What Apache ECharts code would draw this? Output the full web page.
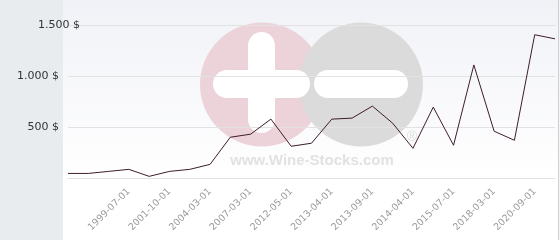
<!DOCTYPE html>
<html><head><meta charset="utf-8">
<script src="https://cdn.jsdelivr.net/npm/echarts@6/dist/echarts.min.js"></script>
<style>html,body{margin:0;padding:0;background:#fff}#c{width:560px;height:240px}</style>
</head><body><div id="c"></div>
<script>
// 25 categories; only the odd ones from index 3 carry a visible date label
var categories = ['', '', '', '1999-07-01', '', '2001-10-01', '', '2004-03-01', '', '2007-03-01', '', '2012-05-01', '', '2013-04-01', '', '2013-09-01', '', '2014-04-01', '', '2015-07-01', '', '2018-03-01', '', '2020-09-01', ''];
var prices = [45, 45, 65, 85, 16, 65, 85, 134, 401, 431, 579, 312, 342, 579, 589, 707, 539, 292, 697, 322, 1112, 460, 371, 1409, 1369];
var yTicks = [0, 500, 1000, 1500];

var chart = echarts.init(document.getElementById('c'), null, {renderer: 'canvas'});
chart.setOption({
  animation: false,
  backgroundColor: '#ffffff',
  grid: {left: 68, right: 5, top: 25.5, bottom: 62, containLabel: false},
  graphic: [
    {type: 'rect', z: -10, silent: true, shape: {x: 0, y: 0, width: 63, height: 240}, style: {fill: '#e8ecef'}},
    {type: 'rect', z: -10, silent: true, shape: {x: 63, y: 0, width: 495, height: 179},
      style: {fill: new echarts.graphic.LinearGradient(0, 0, 0, 1, [{offset: 0, color: '#f1f2f7'}, {offset: 1, color: '#ffffff'}])}},
    {type: 'rect', z: -10, silent: true, shape: {x: 558, y: 0, width: 1.2, height: 240}, style: {fill: '#cfcfcf'}},
    {type: 'circle', z: -5, silent: true, shape: {cx: 262, cy: 84.5, r: 62}, style: {fill: '#ecd3da'}},
    {type: 'circle', z: -5, silent: true, shape: {cx: 361, cy: 84.5, r: 62}, style: {fill: '#dbdbdb'}},
    {type: 'rect', z: -4, silent: true, shape: {x: 213, y: 70, width: 97, height: 28, r: 14}, style: {fill: '#ffffff'}},
    {type: 'rect', z: -4, silent: true, shape: {x: 248, y: 32, width: 27, height: 101, r: 13.5}, style: {fill: '#ffffff'}},
    {type: 'rect', z: -4, silent: true, shape: {x: 314, y: 70, width: 94, height: 28, r: 14}, style: {fill: '#ffffff'}},
    {type: 'text', z: -4, silent: true, x: 312, y: 161, style: {text: 'www.Wine-Stocks.com', font: 'bold 15px "Liberation Sans", Arial, sans-serif', fill: '#e2e2e2', align: 'center', verticalAlign: 'middle'}},
    {type: 'text', z: -4, silent: true, x: 412, y: 137, style: {text: '®', font: '14px "Liberation Sans", Arial, sans-serif', fill: '#dcdcdc', align: 'center', verticalAlign: 'middle'}}
  ],
  xAxis: {
    type: 'category',
    data: categories,
    boundaryGap: false,
    axisLine: {show: true, lineStyle: {color: '#e2e2e2', width: 1}},
    axisTick: {show: false},
    splitLine: {show: false},
    axisLabel: {
      interval: function (i, v) { return v !== ''; },
      rotate: 45,
      margin: 12,
      color: '#9a9a9a',
      fontFamily: 'DejaVu Sans',
      fontSize: 9.5
    }
  },
  yAxis: {
    type: 'value',
    min: yTicks[0],
    max: yTicks[yTicks.length - 1],
    interval: 500,
    axisLine: {show: false},
    axisTick: {show: false},
    splitLine: {show: true, lineStyle: {color: '#e2e2e2', width: 1}},
    axisLabel: {
      margin: 9,
      color: '#333333',
      fontFamily: 'DejaVu Sans',
      fontSize: 11,
      verticalAlign: 'middle',
      alignMaxLabel: 'middle',
      formatter: function (v) {
        if (v === 0) return '';
        return String(v).replace(/\B(?=(\d{3})+(?!\d))/g, '.') + ' $';
      }
    }
  },
  series: [{
    type: 'line',
    data: prices,
    symbol: 'none',
    lineStyle: {color: '#3d1c2b', width: 1},
    z: 5
  }]
});
</script></body></html>
